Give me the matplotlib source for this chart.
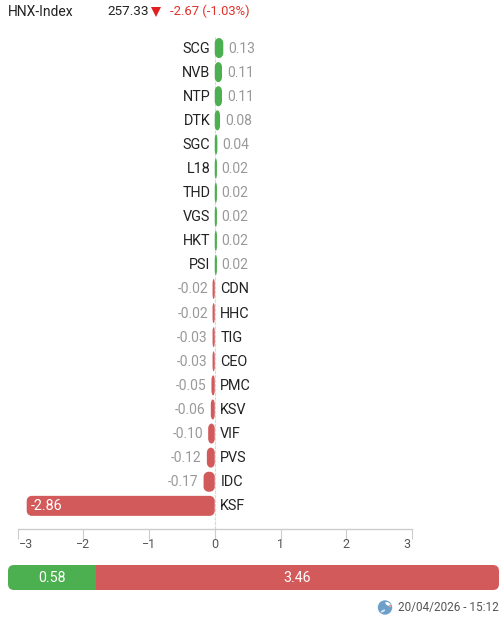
import matplotlib
matplotlib.use("Agg")
import matplotlib.pyplot as plt
from matplotlib.patches import FancyBboxPatch, Circle, Ellipse, PathPatch
from matplotlib.path import Path
from matplotlib.transforms import IdentityTransform, ScaledTranslation

symbols = ["SCG","NVB","NTP","DTK","SGC","L18","THD","VGS","HKT","PSI",
           "CDN","HHC","TIG","CEO","PMC","KSV","VIF","PVS","IDC","KSF"]
values = [0.13,0.11,0.11,0.08,0.04,0.02,0.02,0.02,0.02,0.02,
          -0.02,-0.02,-0.03,-0.03,-0.05,-0.06,-0.10,-0.12,-0.17,-2.86]
x_ticks = [-3,-2,-1,0,1,2,3]
breadth_labels = ["0.58","3.46"]
breadth_shares = [0.179,0.821]
index_name = "HNX-Index"
index_value = "257.33"
index_change = "-2.67 (-1.03%)"
timestamp = "20/04/2026 - 15:12"

GREEN = "#4CAF50"
RED = "#D25A5A"
W, H = 503, 621
plt.rcParams["font.family"] = ["Roboto", "DejaVu Sans"]
fig = plt.figure(figsize=(W/100, H/100), dpi=100, facecolor="white")

def frame(l, t, r, b):
    return [l/W, 1-b/H, (r-l)/W, (b-t)/H]

def rounded(x0, y0, x1, y1, rx, ry):
    kx, ky = rx*0.45, ry*0.45
    verts = [(x0+rx, y0), (x1-rx, y0),
             (x1-kx, y0), (x1, y0+ky), (x1, y0+ry), (x1, y1-ry),
             (x1, y1-ky), (x1-kx, y1), (x1-rx, y1), (x0+rx, y1),
             (x0+kx, y1), (x0, y1-ky), (x0, y1-ry), (x0, y0+ry),
             (x0, y0+ky), (x0+kx, y0), (x0+rx, y0), (x0+rx, y0)]
    codes = [Path.MOVETO, Path.LINETO,
             Path.CURVE4, Path.CURVE4, Path.CURVE4, Path.LINETO,
             Path.CURVE4, Path.CURVE4, Path.CURVE4, Path.LINETO,
             Path.CURVE4, Path.CURVE4, Path.CURVE4, Path.LINETO,
             Path.CURVE4, Path.CURVE4, Path.CURVE4, Path.CLOSEPOLY]
    return Path(verts, codes)

ax = fig.add_axes(frame(17.5, 36, 412, 528.5))
ax.set_xlim(-3, 3)
ax.set_ylim(19.94, -0.5)
ax.patch.set_alpha(0)
for s in ["left","right","top"]:
    ax.spines[s].set_visible(False)
ax.spines["bottom"].set_color("#cccccc")
ax.spines["bottom"].set_linewidth(1)
ax.set_yticks([])
ax.set_xticks(x_ticks)
ax.set_xticklabels([str(v).replace("-", "\u2212") for v in x_ticks])
ax.tick_params(axis="x", length=7.2, width=0.8, color="#cccccc", labelsize=9,
               labelcolor="#555555", pad=0)
labs = ax.get_xticklabels()
labs[0].set_ha("left"); labs[-1].set_ha("right")
labs[0].set_transform(labs[0].get_transform() + ScaledTranslation(1/100, 0, fig.dpi_scale_trans))
labs[-1].set_transform(labs[-1].get_transform() + ScaledTranslation(-1/100, 0, fig.dpi_scale_trans))
ax.axvline(0, color="#d8d8d8", lw=0.8, ls=(0, (3, 1)), zorder=0)

fs_name = 10.4
fs_num = 10
dy = 1
for i, (sym, v) in enumerate(zip(symbols, values)):
    (x0, y0), (x1, y1) = ax.transData.transform([(min(v, 0), i+0.415), (max(v, 0), i-0.415)])
    if x1-x0 < 2.2:
        if v > 0:
            x1 = x0+2.2
        else:
            x0 = x1-2.2
    w = x1-x0
    ax.add_artist(PathPatch(rounded(x0, y0, x1, y1, min(5, w/2), 5), transform=IdentityTransform(),
                            fc=GREEN if v > 0 else RED, ec="none", zorder=3))
    txt = f"{v:.2f}"
    off = 5
    if v > 0:
        ax.annotate(sym, (0, i), xytext=(-4.5, dy), textcoords="offset pixels", ha="right", va="center_baseline", fontsize=fs_name, color="#222222")
        ax.annotate(txt, (v, i), xytext=(off, dy), textcoords="offset pixels", ha="left", va="center_baseline", fontsize=fs_num, color="#999999")
    else:
        ax.annotate(sym, (0, i), xytext=(5.5, dy), textcoords="offset pixels", ha="left", va="center_baseline", fontsize=fs_name, color="#222222")
        if v < -1:
            ax.annotate(txt, (v, i), xytext=(4.5, dy), textcoords="offset pixels", ha="left", va="center_baseline", fontsize=fs_name, color="white", zorder=5)
        else:
            ax.annotate(txt, (v, i), xytext=(-off, dy), textcoords="offset pixels", ha="right", va="center_baseline", fontsize=fs_num, color="#999999")

# breadth bar
bx = fig.add_axes(frame(8, 565, 499, 590))
bx.set_xlim(0, 1); bx.set_ylim(0, 1); bx.axis("off")
clip = FancyBboxPatch((8, H-590), 491, 25, boxstyle="round,pad=0,rounding_size=6",
                      transform=IdentityTransform(), fc="none", ec="none")
bx.add_artist(clip)
left = 0
for share, col, lab in zip(breadth_shares, [GREEN, RED], breadth_labels):
    b = bx.barh(0.5, share, left=left, height=1, color=col, lw=0)[0]
    b.set_clip_path(clip)
    bx.text(left+share/2, 0.48, lab, ha="center", va="center", color="white", fontsize=10.2)
    left += share

# overlay
ov = fig.add_axes([0, 0, 1, 1])
ov.set_xlim(0, W); ov.set_ylim(H, 0); ov.axis("off"); ov.patch.set_alpha(0)
ov.text(8, 11.5, index_name, ha="left", va="center", fontsize=10, color="#222222")
ov.text(107, 11.5, index_value, ha="left", va="center", fontsize=9.7, color="#222222")
ov.plot([155.8], [11.8], marker="v", ms=7.2, color="#E02020", mew=0)
ov.text(170, 11.5, index_change, ha="left", va="center", fontsize=9.4, color="#E0312A")
ov.text(499, 608, timestamp, ha="right", va="center", fontsize=8.5, color="#555555")
ov.add_patch(Circle((385, 607.5), 7.2, fc="#6D9FCB", ec="none"))
ov.add_patch(Ellipse((388, 604), 6, 3, angle=30, fc="white", ec="none"))
ov.add_patch(Ellipse((383, 611), 5, 2, angle=-30, fc="#DDE8F2", ec="none"))
ov.add_patch(Circle((390, 606), 1.3, fc="#E2A0A0", ec="none"))

fig.savefig("out.png", dpi=100, facecolor="white")
